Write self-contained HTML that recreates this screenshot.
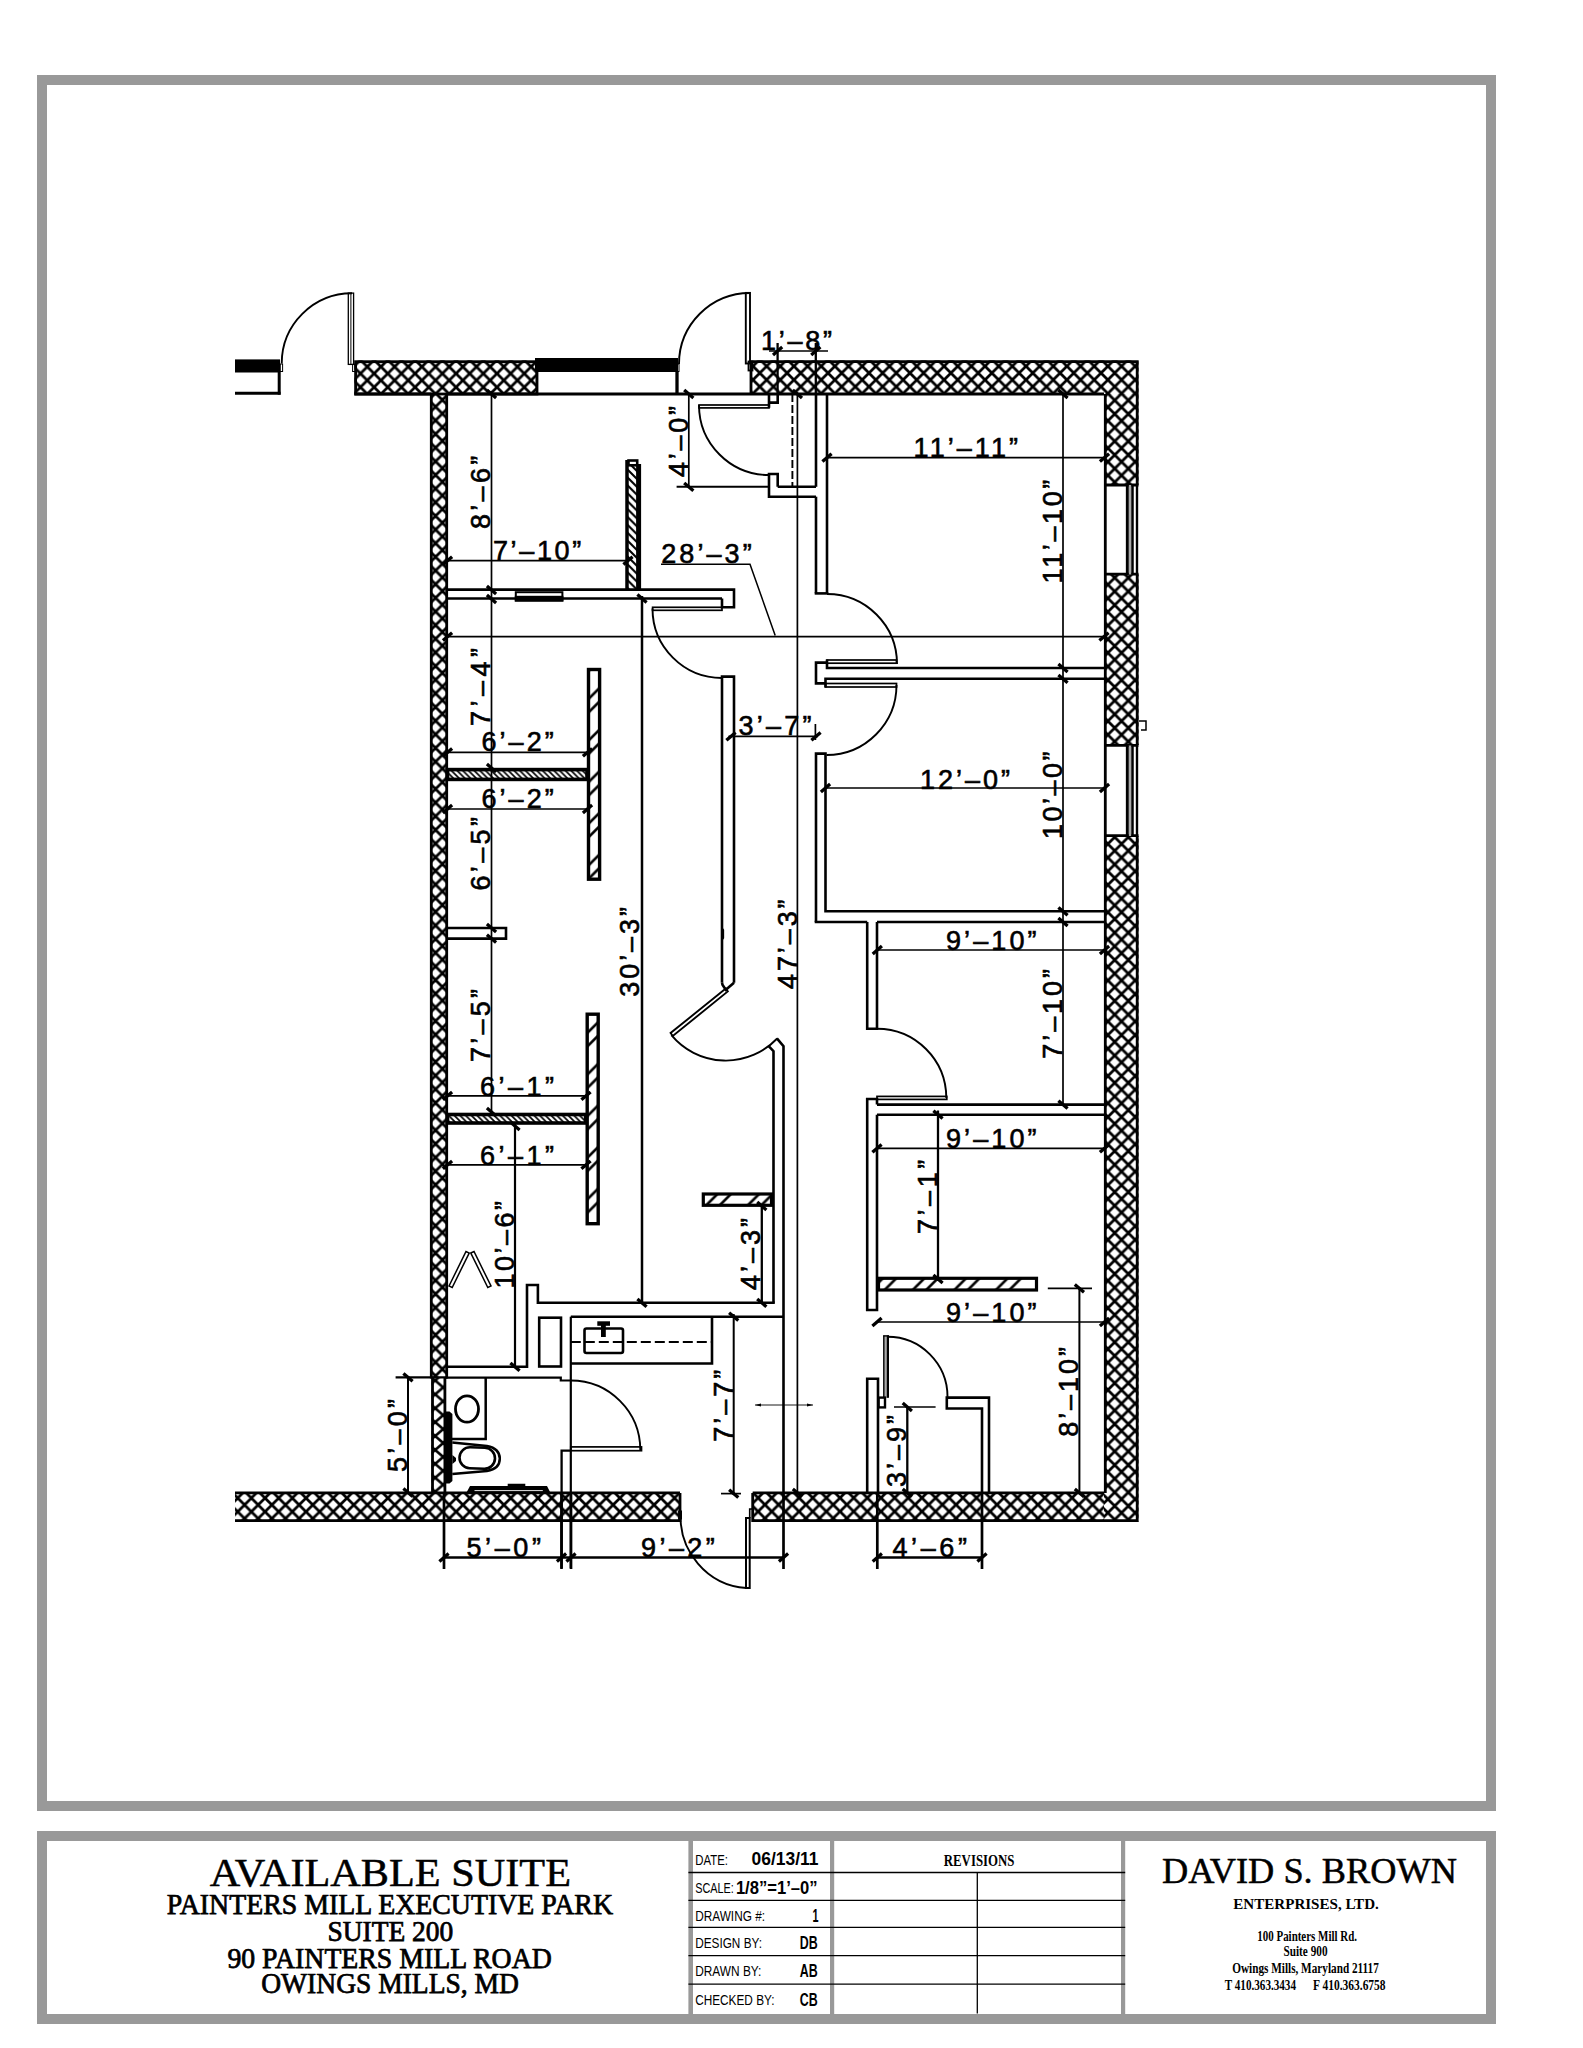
<!DOCTYPE html>
<html><head><meta charset="utf-8"><title>Available Suite - Suite 200</title>
<style>
html,body{margin:0;padding:0;background:#fff;}
body{width:1583px;height:2048px;overflow:hidden;font-family:"Liberation Sans",sans-serif;}
svg{display:block;}
svg line, svg path, svg rect, svg ellipse, svg polygon, svg polyline{stroke:#000;}
.d{font-family:"Liberation Sans",sans-serif;fill:#000;stroke:#000;stroke-width:0.6px;}
.s{font-family:"Liberation Serif",serif;fill:#000;}
.c{font-family:"Liberation Sans",sans-serif;fill:#000;}
.g{stroke:#999 !important;}
</style></head><body>
<svg width="1583" height="2048" viewBox="0 0 1583 2048">
<defs>
<pattern id="xh" patternUnits="userSpaceOnUse" x="2.25" y="11.3" width="13.65" height="13.65">
<path d="M-1,-1 L14.65,14.65 M-1,14.65 L14.65,-1" stroke="#000" stroke-width="2.75" fill="none"/>
</pattern>
<pattern id="xhTL" patternUnits="userSpaceOnUse" x="5.6" y="5.0" width="13.65" height="13.65">
<path d="M-1,-1 L14.65,14.65 M-1,14.65 L14.65,-1" stroke="#000" stroke-width="2.75" fill="none"/>
</pattern>
<pattern id="xhL2" patternUnits="userSpaceOnUse" x="11.2" y="11.3" width="16" height="13.9">
<path d="M-2,-1.74 L18,15.64 M-2,15.64 L18,-1.74" stroke="#000" stroke-width="2.6" fill="none"/>
</pattern>
<pattern id="xhL" patternUnits="userSpaceOnUse" x="5.6" y="4.1" width="13.65" height="13.65">
<path d="M-1,-1 L14.65,14.65 M-1,14.65 L14.65,-1" stroke="#000" stroke-width="2.75" fill="none"/>
</pattern>
<pattern id="xhBL" patternUnits="userSpaceOnUse" x="5.7" y="10.2" width="13.65" height="13.65">
<path d="M-1,-1 L14.65,14.65 M-1,14.65 L14.65,-1" stroke="#000" stroke-width="2.75" fill="none"/>
</pattern>
<pattern id="xhBR" patternUnits="userSpaceOnUse" x="7.4" y="10.0" width="13.65" height="13.65">
<path d="M-1,-1 L14.65,14.65 M-1,14.65 L14.65,-1" stroke="#000" stroke-width="2.75" fill="none"/>
</pattern>
<pattern id="hf" patternUnits="userSpaceOnUse" x="0" y="0" width="41.6" height="41.6">
<path d="M0.0,-2 L-2,0.0 M13.4,-2 L-2,13.4 M41.6,-2 L-2,41.6 M55.0,-2 L-2,55.0 M83.2,-2 L-2,83.2 M96.6,-2 L-2,96.6" stroke="#000" stroke-width="2.6" fill="none"/>
</pattern>
<pattern id="hb" patternUnits="userSpaceOnUse" x="0" y="0" width="5.7" height="5.7">
<path d="M-1,-1 L6.7,6.7 M-3.85,1.85 L1.85,7.55 M1.85,-3.85 L9.55,3.85" stroke="#000" stroke-width="1.7" fill="none"/>
</pattern>
<pattern id="hb2" patternUnits="userSpaceOnUse" x="0" y="0" width="7.9" height="7.9">
<path d="M-1,-1 L8.9,8.9 M-4.95,2.95 L2.95,10.85 M2.95,-4.95 L10.85,2.95" stroke="#000" stroke-width="2.1" fill="none"/>
</pattern>
</defs>
<rect x="0" y="0" width="1583" height="2048" fill="#fff" stroke="none" style="stroke:none"/>
<rect x="42" y="80" width="1449" height="1726" fill="none" stroke-width="10" class="g"/>
<rect x="42" y="1836" width="1449" height="183" fill="none" stroke-width="10" class="g"/>
<rect x="688.4" y="1840" width="4.6" height="174" fill="#999" style="stroke:none"/>
<rect x="830" y="1840" width="4.2" height="174" fill="#999" style="stroke:none"/>
<rect x="1121" y="1840" width="4.2" height="174" fill="#999" style="stroke:none"/>
<line x1="688.4" y1="1872.5" x2="1125.2" y2="1872.5" stroke-width="1.4" />
<line x1="688.4" y1="1900.4" x2="1125.2" y2="1900.4" stroke-width="1.4" />
<line x1="688.4" y1="1927.4" x2="1125.2" y2="1927.4" stroke-width="1.4" />
<line x1="688.4" y1="1955.6" x2="1125.2" y2="1955.6" stroke-width="1.4" />
<line x1="688.4" y1="1984.1" x2="1125.2" y2="1984.1" stroke-width="1.4" />
<line x1="977.3" y1="1872.5" x2="977.3" y2="2013.5" stroke-width="1.3" />
<text x="209.7" y="1886" font-size="40" font-weight="normal" textLength="361.3" lengthAdjust="spacingAndGlyphs" class="s" stroke="#000" stroke-width="0.5">AVAILABLE SUITE</text>
<text x="166.8" y="1913.7" font-size="28.5" font-weight="normal" textLength="446.2" lengthAdjust="spacingAndGlyphs" class="s" stroke="#000" stroke-width="0.75">PAINTERS MILL EXECUTIVE PARK</text>
<text x="327.4" y="1940.5" font-size="28.5" font-weight="normal" textLength="125.9" lengthAdjust="spacingAndGlyphs" class="s" stroke="#000" stroke-width="0.75">SUITE 200</text>
<text x="227.4" y="1967.8" font-size="28.5" font-weight="normal" textLength="324.4" lengthAdjust="spacingAndGlyphs" class="s" stroke="#000" stroke-width="0.75">90 PAINTERS MILL ROAD</text>
<text x="261.2" y="1993" font-size="28.5" font-weight="normal" textLength="257.8" lengthAdjust="spacingAndGlyphs" class="s" stroke="#000" stroke-width="0.75">OWINGS MILLS, MD</text>
<text x="695.2" y="1865" font-size="15.5" font-weight="normal" textLength="32.7" lengthAdjust="spacingAndGlyphs" class="c" >DATE:</text>
<text x="751.6" y="1865" font-size="18" font-weight="bold" textLength="66.9" lengthAdjust="spacingAndGlyphs" class="c" >06/13/11</text>
<text x="695.2" y="1893" font-size="15.5" font-weight="normal" textLength="38.6" lengthAdjust="spacingAndGlyphs" class="c" >SCALE:</text>
<text x="735.9" y="1894.4" font-size="18" font-weight="bold" textLength="81.7" lengthAdjust="spacingAndGlyphs" class="c" >1/8”=1’–0”</text>
<text x="695.2" y="1920.6" font-size="15.5" font-weight="normal" textLength="69.8" lengthAdjust="spacingAndGlyphs" class="c" >DRAWING #:</text>
<text x="812.5" y="1921.5" font-size="18" font-weight="bold" textLength="6.0" lengthAdjust="spacingAndGlyphs" class="c" >1</text>
<text x="695.2" y="1948.2" font-size="15.5" font-weight="normal" textLength="66.8" lengthAdjust="spacingAndGlyphs" class="c" >DESIGN BY:</text>
<text x="799.7" y="1949" font-size="18" font-weight="bold" textLength="17.9" lengthAdjust="spacingAndGlyphs" class="c" >DB</text>
<text x="695.2" y="1976" font-size="15.5" font-weight="normal" textLength="66.2" lengthAdjust="spacingAndGlyphs" class="c" >DRAWN BY:</text>
<text x="799.7" y="1977" font-size="18" font-weight="bold" textLength="17.9" lengthAdjust="spacingAndGlyphs" class="c" >AB</text>
<text x="695.2" y="2004.6" font-size="15.5" font-weight="normal" textLength="79.3" lengthAdjust="spacingAndGlyphs" class="c" >CHECKED BY:</text>
<text x="799.7" y="2005.5" font-size="18" font-weight="bold" textLength="17.9" lengthAdjust="spacingAndGlyphs" class="c" >CB</text>
<text x="943.8" y="1866.2" font-size="17.5" font-weight="bold" textLength="70.6" lengthAdjust="spacingAndGlyphs" class="s" >REVISIONS</text>
<text x="1162" y="1883.3" font-size="36.8" font-weight="normal" textLength="295.0" lengthAdjust="spacingAndGlyphs" class="s" stroke="#000" stroke-width="0.5">DAVID S. BROWN</text>
<text x="1233.3" y="1909.3" font-size="15.5" font-weight="bold" textLength="145.5" lengthAdjust="spacingAndGlyphs" class="s" >ENTERPRISES, LTD.</text>
<text x="1257.3" y="1941" font-size="14.5" font-weight="bold" textLength="99.7" lengthAdjust="spacingAndGlyphs" class="s" >100 Painters Mill Rd.</text>
<text x="1283.5" y="1955.8" font-size="14.5" font-weight="bold" textLength="44.0" lengthAdjust="spacingAndGlyphs" class="s" >Suite 900</text>
<text x="1232.2" y="1972.8" font-size="14.5" font-weight="bold" textLength="146.6" lengthAdjust="spacingAndGlyphs" class="s" >Owings Mills, Maryland 21117</text>
<text x="1224.8" y="1990" font-size="14.5" font-weight="bold" textLength="71.2" lengthAdjust="spacingAndGlyphs" class="s" >T 410.363.3434</text>
<text x="1313" y="1990" font-size="14.5" font-weight="bold" textLength="72.6" lengthAdjust="spacingAndGlyphs" class="s" >F 410.363.6758</text>
<rect x="354.4" y="360.4" width="182.60" height="33.60" fill="url(#xhTL)" style="stroke:none"/>
<rect x="751" y="360.4" width="387.50" height="34.10" fill="url(#xh)" style="stroke:none"/>
<rect x="1104" y="394" width="34.50" height="90.80" fill="url(#xh)" style="stroke:none"/>
<rect x="1104" y="574.5" width="34.50" height="170.50" fill="url(#xh)" style="stroke:none"/>
<rect x="1104" y="836" width="34.50" height="686.00" fill="url(#xh)" style="stroke:none"/>
<rect x="235" y="1492.5" width="445.00" height="29.50" fill="url(#xhBL)" style="stroke:none"/>
<rect x="752.7" y="1492.5" width="351.30" height="29.50" fill="url(#xhBR)" style="stroke:none"/>
<rect x="430.5" y="394" width="17.00" height="983.40" fill="url(#xhL)" style="stroke:none"/>
<rect x="431.5" y="1377.4" width="14.50" height="115.10" fill="url(#xhL2)" style="stroke:none"/>
<rect x="355.6" y="361.7" width="181.40" height="32.30" stroke-width="2.8" fill="none" />
<path d="M751,394 L751,361.7 L1137.2,361.7 L1137.2,484.8 M1137.2,574.5 L1137.2,745 M1137.2,836 L1137.2,1520.7 L752.7,1520.7 L752.7,1492.9" stroke-width="2.8" fill="none" />
<line x1="354.4" y1="394" x2="431.5" y2="394" stroke-width="2.8" />
<line x1="446.8" y1="394" x2="1104" y2="394" stroke-width="2.8" />
<line x1="1105.3" y1="394" x2="1105.3" y2="1492.9" stroke-width="2.8" />
<line x1="752.7" y1="1492.9" x2="1104" y2="1492.9" stroke-width="2.8" />
<line x1="1104" y1="485" x2="1138.5" y2="485" stroke-width="2.8" />
<line x1="1104" y1="574.2" x2="1138.5" y2="574.2" stroke-width="2.8" />
<line x1="1104" y1="745.3" x2="1138.5" y2="745.3" stroke-width="2.8" />
<line x1="1104" y1="835.7" x2="1138.5" y2="835.7" stroke-width="2.8" />
<rect x="1128.6" y="485" width="2.8" height="89.5" fill="#aaa" style="stroke:none"/>
<line x1="1127.3" y1="485" x2="1127.3" y2="574.5" stroke-width="2.9" />
<line x1="1132.5" y1="485" x2="1132.5" y2="574.5" stroke-width="2.5" />
<line x1="1137" y1="485" x2="1137" y2="574.5" stroke-width="2.4" />
<rect x="1128.6" y="745.5" width="2.8" height="90.5" fill="#aaa" style="stroke:none"/>
<line x1="1127.3" y1="745.5" x2="1127.3" y2="836" stroke-width="2.9" />
<line x1="1132.5" y1="745.5" x2="1132.5" y2="836" stroke-width="2.5" />
<line x1="1137" y1="745.5" x2="1137" y2="836" stroke-width="2.4" />
<path d="M1139,721 L1146,721 L1146,730 L1141,730" stroke-width="1.5" fill="none" />
<path d="M680,1492.9 L235,1492.9 M235,1520.7 L680,1520.7 L680,1492.9" stroke-width="2.8" fill="none" />
<line x1="431.3" y1="393" x2="431.3" y2="1378.5" stroke-width="2.8" />
<line x1="432.5" y1="1377.4" x2="432.5" y2="1492.9" stroke-width="2.8" />
<line x1="446.7" y1="393" x2="446.7" y2="1378.5" stroke-width="2.8" />
<line x1="444.9" y1="1377.4" x2="444.9" y2="1492.9" stroke-width="2.8" />
<rect x="235" y="359.4" width="45.00" height="13.10" stroke-width="0" fill="#000" />
<line x1="279.2" y1="372" x2="279.2" y2="394.7" stroke-width="3" />
<line x1="235" y1="393.2" x2="280.6" y2="393.2" stroke-width="3" />
<rect x="280.3" y="364" width="2.30" height="7.50" stroke-width="1.0" fill="none" />
<path d="M281.7,363.6 A70.3,70.3 0 0 1 352.0,293.3" stroke-width="1.9" fill="none" />
<rect x="348.3" y="293.1" width="5.30" height="71.30" stroke-width="1.3" fill="none" />
<line x1="350.9" y1="293.1" x2="350.9" y2="364.4" stroke-width="1.0" />
<rect x="352.6" y="364.4" width="2.80" height="7.10" stroke-width="1.0" fill="none" />
<rect x="535" y="358" width="143.00" height="14.00" stroke-width="0" fill="#000" />
<line x1="536.6" y1="372" x2="536.6" y2="394" stroke-width="1.6" />
<line x1="677" y1="372" x2="677" y2="394" stroke-width="3.3" />
<rect x="676.5" y="364" width="2.50" height="7.50" stroke-width="1.0" fill="none" />
<path d="M679.0,364.0 A71,71 0 0 1 750.0,293.0" stroke-width="1.9" fill="none" />
<rect x="745.8" y="292.9" width="4.20" height="70.60" stroke-width="1.9" fill="none" />
<rect x="748.5" y="361.5" width="4.00" height="9.00" stroke-width="1.8" fill="none" />
<path d="M769,394 L769,407.7 M769,402.6 L777.7,402.6 L777.7,394" stroke-width="2.6" fill="none" />
<rect x="699" y="405" width="70.00" height="2.90" stroke-width="1.7" fill="none" />
<path d="M699.0,405.0 A70,70 0 0 0 769.0,475.0" stroke-width="1.9" fill="none" />
<path d="M777.7,486.8 L777.7,474 L769,474 L769,496.7 L816,496.7" stroke-width="2.6" fill="none" />
<line x1="777.7" y1="486.8" x2="816" y2="486.8" stroke-width="2.6" />
<line x1="676.6" y1="486.8" x2="769" y2="486.8" stroke-width="2.0" />
<line x1="816" y1="394" x2="816" y2="486.8" stroke-width="2.6" />
<line x1="816" y1="496.7" x2="816" y2="593.4" stroke-width="2.6" />
<line x1="827" y1="394" x2="827" y2="593.4" stroke-width="2.6" />
<line x1="814.7" y1="593.4" x2="828.3" y2="593.4" stroke-width="2.6" />
<line x1="792.4" y1="394" x2="792.4" y2="486.8" stroke-width="1.9" stroke-dasharray="8 3"/>
<path d="M827.0,594.0 A70,70 0 0 1 897.0,664.0" stroke-width="1.9" fill="none" />
<rect x="827" y="660" width="69.50" height="3.20" stroke-width="1.7" fill="none" />
<path d="M827,659.5 L827,668 L1104,668" stroke-width="2.6" fill="none" />
<path d="M827,662.6 L816,662.6 L816,683.4 L825.5,683.4" stroke-width="2.6" fill="none" />
<path d="M825.5,687.5 L825.5,678.8 L1104,678.8" stroke-width="2.6" fill="none" />
<rect x="825.5" y="683.5" width="71.00" height="3.50" stroke-width="1.7" fill="none" />
<path d="M896.5,685.0 A70,70 0 0 1 826.5,755.0" stroke-width="1.9" fill="none" />
<path d="M816,922 L816,753.6 L825.5,753.6 L825.5,911.3 L1104,911.3" stroke-width="2.6" fill="none" />
<path d="M814.7,922 L867.2,922 M877,922 L1104,922" stroke-width="2.6" fill="none" />
<path d="M867.2,922 L867.2,1028.8 L877,1028.8 L877,922" stroke-width="2.6" fill="none" />
<path d="M877.0,1028.7 A69.3,69.3 0 0 1 946.3,1098.0" stroke-width="1.9" fill="none" />
<rect x="877" y="1096.4" width="69.80" height="3.00" stroke-width="1.7" fill="none" />
<path d="M877,1104.6 L1104,1104.6 M877,1114.7 L1104,1114.7" stroke-width="2.6" fill="none" />
<path d="M877,1104.6 L877,1099 L867.2,1099 L867.2,1310 L877,1310 L877,1114.7" stroke-width="2.6" fill="none" />
<rect x="878.5" y="1278.3" width="158.00" height="11.70" fill="url(#hf)" stroke-width="3.2"/>
<path d="M867.2,1492.9 L867.2,1378.7 L878,1378.7 L878,1492.9" stroke-width="2.6" fill="none" />
<rect x="884" y="1335.7" width="4.00" height="62.10" stroke-width="0" fill="#aaa" style="stroke:none"/>
<line x1="883.8" y1="1335.5" x2="883.8" y2="1397.8" stroke-width="1.4" />
<line x1="887.9" y1="1335.5" x2="887.9" y2="1397.8" stroke-width="2.2" />
<line x1="883.2" y1="1335.9" x2="889" y2="1335.9" stroke-width="1.4" />
<path d="M887.5,1336.8 A60,60 0 0 1 947.5,1396.8" stroke-width="1.9" fill="none" />
<rect x="878.6" y="1397.6" width="6.40" height="9.80" stroke-width="2.4" fill="none" />
<path d="M946.8,1396.3 L946.8,1408.5 L982,1408.5 L982,1492.9" stroke-width="2.6" fill="none" />
<path d="M946.8,1397.6 L989,1397.6 L989,1492.9" stroke-width="2.6" fill="none" />
<path d="M447.5,589.6 L734,589.6 L734,607.3 L722,607.3 L722,598.5" stroke-width="2.6" fill="none" />
<line x1="447.5" y1="598.5" x2="722" y2="598.5" stroke-width="2.3" />
<rect x="515.8" y="592.2" width="46.60" height="8.40" stroke-width="2.0" fill="none" />
<rect x="514.8" y="595.8" width="48.60" height="5.70" stroke-width="0" fill="#000" />
<rect x="652.6" y="607.3" width="69.40" height="3.00" stroke-width="1.7" fill="none" />
<path d="M652.5,608.5 A69.5,69.5 0 0 0 722.0,678.0" stroke-width="1.9" fill="none" />
<rect x="627" y="464" width="12.00" height="125.00" fill="url(#hb2)" style="stroke:none"/>
<line x1="627" y1="460" x2="627" y2="589" stroke-width="3.5" />
<line x1="638.6" y1="464" x2="638.6" y2="589" stroke-width="5" />
<rect x="628.5" y="460.5" width="8.70" height="4.80" stroke-width="2.6" fill="#fff" />
<path d="M722,982.8 L722,676.6 L734,676.6 L734,982.8" stroke-width="2.6" fill="none" />
<path d="M722,928 L723.5,930 L723.5,938 L722,940" stroke-width="1.3" fill="none" />
<path d="M722,982.8 L722.6,985 L725.8,989.8 L734,982.8" stroke-width="2.6" fill="none" />
<path d="M725.8,988.6 L670.6,1033 L672.8,1036 L727.8,991.4 Z" stroke-width="1.9" fill="none" />
<path d="M671.4,1035.1 A70.8,70.8 0 0 0 777.2,1038.5" stroke-width="1.9" fill="none" />
<path d="M768.2,1045.7 L773.5,1051.2 L773.5,1302.8" stroke-width="2.6" fill="none" />
<path d="M776.9,1038.3 L783.5,1046.2 L783.5,1492.9" stroke-width="2.6" fill="none" />
<rect x="703.3" y="1194" width="68.20" height="11.30" fill="url(#hf)" stroke-width="3.2"/>
<rect x="588.5" y="669.5" width="11.10" height="209.70" fill="url(#hf)" stroke-width="3.4"/>
<rect x="447.5" y="769.6" width="139.50" height="9.80" fill="url(#hb)" stroke-width="3.6"/>
<rect x="587.2" y="1014.2" width="11.00" height="209.50" fill="url(#hf)" stroke-width="3.4"/>
<rect x="447.5" y="1114.5" width="138.20" height="8.50" fill="url(#hb)" stroke-width="3.6"/>
<path d="M447.5,928 L506,928 L506,938.6 L447.5,938.6" stroke-width="2.6" fill="none" />
<path d="M449,1286 L466,1251.5 L469.2,1253 L452.2,1287.5 Z" stroke-width="1.5" fill="none" />
<path d="M470.8,1253 L474,1251.5 L491,1286 L487.8,1287.5 Z" stroke-width="1.5" fill="none" />
<line x1="446" y1="1366.8" x2="527" y2="1366.8" stroke-width="2.6" />
<path d="M527,1368 L527,1285 L537.9,1285 L537.9,1302.8 L774.8,1302.8" stroke-width="2.6" fill="none" />
<rect x="539.2" y="1317.7" width="21.80" height="48.80" stroke-width="2.6" fill="none" />
<line x1="570.8" y1="1316.7" x2="784" y2="1316.7" stroke-width="2.6" />
<line x1="570.8" y1="1316.7" x2="570.8" y2="1568" stroke-width="2.2" />
<path d="M712,1316.7 L712,1363.5 L570.8,1363.5" stroke-width="2.6" fill="none" />
<line x1="570.8" y1="1342" x2="712" y2="1342" stroke-width="2.0" stroke-dasharray="10 4"/>
<rect x="584.5" y="1328.5" width="38.5" height="24.5" rx="2" ry="2" fill="none" stroke-width="2.6"/>
<rect x="597.3" y="1321.3" width="12.70" height="4.50" stroke-width="0" fill="#000" />
<rect x="601" y="1325" width="4.80" height="12.00" stroke-width="0" fill="#000" />
<path d="M446,1377.6 L560.8,1377.6 L560.8,1380.5 L570.8,1380.5" stroke-width="2.2" fill="none" />
<path d="M570.8,1380.5 A69.5,69.5 0 0 1 640.3,1450.0" stroke-width="1.9" fill="none" />
<rect x="570.8" y="1446.9" width="70.70" height="3.80" stroke-width="1.7" fill="none" />
<path d="M570.8,1450.7 L561.6,1450.7 L561.6,1568" stroke-width="2.3" fill="none" />
<path d="M447,1439 L485.7,1439 L485.7,1377.8" stroke-width="2.5" fill="none" />
<ellipse cx="467" cy="1409" rx="11.5" ry="13.2" fill="none" stroke-width="2.8"/>
<polygon points="446,1411.6 449.5,1411.6 452.4,1414 452.4,1481 449.5,1483.4 446,1483.4" fill="#000" style="stroke:none"/>
<polygon points="452.4,1455 456,1458 456,1461 452.4,1464" fill="#000" style="stroke:none"/>
<path d="M452.3,1442.6 L486.9,1446 Q499.8,1448.5 499.8,1458.5 Q499.8,1469 486.9,1471 L452.3,1474" stroke-width="2.5" fill="none" />
<rect x="459.5" y="1447.5" width="35.5" height="21" rx="10.5" ry="10.5" fill="none" stroke-width="2.6" transform="rotate(2 477 1458)"/>
<polygon points="466.5,1492.5 470,1486 507.7,1486 507.7,1483.7 525.3,1483.7 525.3,1486 547,1486 550.3,1492.5" fill="#000" style="stroke:none"/>
<line x1="474.5" y1="1490.6" x2="542.8" y2="1490.6" stroke-width="0.9" style="stroke:#fff"/>
<rect x="746" y="1518" width="3.70" height="70.00" stroke-width="2.0" fill="none" />
<path d="M680.7,1511 A70,72 0 0 0 746.4,1588" stroke-width="1.9" fill="none" />
<rect x="678.6" y="1511" width="2.90" height="8.00" stroke-width="1.0" fill="none" />
<path d="M752,1509 L749.7,1509 L749.7,1518" stroke-width="1.6" fill="none" />
<line x1="491.5" y1="391" x2="491.5" y2="1112" stroke-width="1.7" />
<line x1="486.9" y1="390.1" x2="496.1" y2="397.9" stroke-width="3.3"/>
<line x1="486.9" y1="586.1" x2="496.1" y2="593.9" stroke-width="3.3"/>
<line x1="486.9" y1="595.1" x2="496.1" y2="602.9" stroke-width="3.3"/>
<line x1="486.9" y1="764.1" x2="496.1" y2="771.9" stroke-width="3.3"/>
<line x1="486.9" y1="924.1" x2="496.1" y2="931.9" stroke-width="3.3"/>
<line x1="486.9" y1="934.7" x2="496.1" y2="942.5" stroke-width="3.3"/>
<line x1="486.9" y1="1108.1" x2="496.1" y2="1115.9" stroke-width="3.3"/>
<line x1="447.5" y1="560.6" x2="628" y2="560.6" stroke-width="1.7" />
<line x1="442.9" y1="564.5" x2="452.1" y2="556.7" stroke-width="3.3"/>
<line x1="623.4" y1="564.5" x2="632.6" y2="556.7" stroke-width="3.3"/>
<line x1="447.5" y1="636.6" x2="1104" y2="636.6" stroke-width="1.7" />
<line x1="442.9" y1="640.5" x2="452.1" y2="632.7" stroke-width="3.3"/>
<line x1="1099.4" y1="640.5" x2="1108.6" y2="632.7" stroke-width="3.3"/>
<path d="M661,564.2 L750,564.2 L775.2,635.5" stroke-width="1.5" fill="none" />
<line x1="642" y1="596" x2="642" y2="1302.8" stroke-width="2.5" />
<line x1="637.4" y1="594.6" x2="646.6" y2="602.4" stroke-width="3.3"/>
<line x1="637.4" y1="1298.9" x2="646.6" y2="1306.7" stroke-width="3.3"/>
<line x1="797.4" y1="394" x2="797.4" y2="1492.9" stroke-width="1.7" />
<line x1="792.8" y1="390.1" x2="802.0" y2="397.9" stroke-width="3.3"/>
<line x1="792.8" y1="1489.0" x2="802.0" y2="1496.8" stroke-width="3.3"/>
<line x1="688.8" y1="394" x2="688.8" y2="486.8" stroke-width="1.7" />
<line x1="684.2" y1="390.1" x2="693.4" y2="397.9" stroke-width="3.3"/>
<line x1="684.2" y1="482.9" x2="693.4" y2="490.7" stroke-width="3.3"/>
<line x1="769" y1="351" x2="828" y2="351" stroke-width="1.7" />
<line x1="773.0" y1="354.9" x2="782.2" y2="347.1" stroke-width="3.3"/>
<line x1="811.2" y1="354.9" x2="820.4" y2="347.1" stroke-width="3.3"/>
<line x1="777.6" y1="343" x2="777.6" y2="394" stroke-width="2.3" />
<line x1="815.8" y1="343" x2="815.8" y2="394" stroke-width="2.3" />
<line x1="827" y1="457.7" x2="1104.5" y2="457.7" stroke-width="1.7" />
<line x1="822.4" y1="461.6" x2="831.6" y2="453.8" stroke-width="3.3"/>
<line x1="1099.9" y1="461.6" x2="1109.1" y2="453.8" stroke-width="3.3"/>
<line x1="1063" y1="394" x2="1063" y2="1104.6" stroke-width="1.7" />
<line x1="1058.4" y1="390.1" x2="1067.6" y2="397.9" stroke-width="3.3"/>
<line x1="1058.4" y1="664.1" x2="1067.6" y2="671.9" stroke-width="3.3"/>
<line x1="1058.4" y1="674.9" x2="1067.6" y2="682.7" stroke-width="3.3"/>
<line x1="1058.4" y1="907.4" x2="1067.6" y2="915.2" stroke-width="3.3"/>
<line x1="1058.4" y1="918.1" x2="1067.6" y2="925.9" stroke-width="3.3"/>
<line x1="1058.4" y1="1100.7" x2="1067.6" y2="1108.5" stroke-width="3.3"/>
<line x1="728.5" y1="736.4" x2="818" y2="736.4" stroke-width="1.7" />
<line x1="726.4" y1="740.3" x2="735.6" y2="732.5" stroke-width="3.3"/>
<line x1="811.4" y1="740.3" x2="820.6" y2="732.5" stroke-width="3.3"/>
<line x1="815.4" y1="724" x2="815.4" y2="740" stroke-width="1.7" />
<line x1="447.5" y1="752.4" x2="587.5" y2="752.4" stroke-width="1.7" />
<line x1="442.9" y1="756.3" x2="452.1" y2="748.5" stroke-width="3.3"/>
<line x1="582.9" y1="756.3" x2="592.1" y2="748.5" stroke-width="3.3"/>
<line x1="447.5" y1="809" x2="587.5" y2="809" stroke-width="1.7" />
<line x1="442.9" y1="812.9" x2="452.1" y2="805.1" stroke-width="3.3"/>
<line x1="582.9" y1="812.9" x2="592.1" y2="805.1" stroke-width="3.3"/>
<line x1="825.5" y1="788" x2="1104.5" y2="788" stroke-width="1.7" />
<line x1="820.9" y1="791.9" x2="830.1" y2="784.1" stroke-width="3.3"/>
<line x1="1099.9" y1="791.9" x2="1109.1" y2="784.1" stroke-width="3.3"/>
<line x1="877.3" y1="950" x2="1104.5" y2="950" stroke-width="1.7" />
<line x1="872.7" y1="953.9" x2="881.9" y2="946.1" stroke-width="3.3"/>
<line x1="1099.9" y1="953.9" x2="1109.1" y2="946.1" stroke-width="3.3"/>
<line x1="447.5" y1="1095.8" x2="586" y2="1095.8" stroke-width="1.7" />
<line x1="442.9" y1="1099.7" x2="452.1" y2="1091.9" stroke-width="3.3"/>
<line x1="581.4" y1="1099.7" x2="590.6" y2="1091.9" stroke-width="3.3"/>
<line x1="447.5" y1="1164.8" x2="586" y2="1164.8" stroke-width="1.7" />
<line x1="442.9" y1="1168.7" x2="452.1" y2="1160.9" stroke-width="3.3"/>
<line x1="581.4" y1="1168.7" x2="590.6" y2="1160.9" stroke-width="3.3"/>
<line x1="515" y1="1124" x2="515" y2="1366.8" stroke-width="2.2" />
<line x1="510.4" y1="1122.1" x2="519.6" y2="1129.9" stroke-width="3.3"/>
<line x1="510.4" y1="1362.9" x2="519.6" y2="1370.7" stroke-width="3.3"/>
<line x1="877" y1="1148.4" x2="1104.5" y2="1148.4" stroke-width="1.7" />
<line x1="872.4" y1="1152.3" x2="881.6" y2="1144.5" stroke-width="3.3"/>
<line x1="1099.9" y1="1152.3" x2="1109.1" y2="1144.5" stroke-width="3.3"/>
<line x1="938" y1="1110.5" x2="938" y2="1281" stroke-width="2.3" />
<line x1="933.4" y1="1110.8" x2="942.6" y2="1118.6" stroke-width="3.3"/>
<line x1="933.4" y1="1275.1" x2="942.6" y2="1282.9" stroke-width="3.3"/>
<line x1="761.8" y1="1205" x2="761.8" y2="1303.5" stroke-width="2.3" />
<line x1="757.2" y1="1202.1" x2="766.4" y2="1209.9" stroke-width="3.3"/>
<line x1="757.2" y1="1298.9" x2="766.4" y2="1306.7" stroke-width="3.3"/>
<line x1="1079.4" y1="1287.7" x2="1079.4" y2="1493.6" stroke-width="2.0" />
<line x1="1074.8" y1="1284.5" x2="1084.0" y2="1292.3" stroke-width="3.3"/>
<line x1="1074.8" y1="1489.0" x2="1084.0" y2="1496.8" stroke-width="3.3"/>
<line x1="1047.8" y1="1288.4" x2="1092" y2="1288.4" stroke-width="1.7" />
<line x1="877" y1="1322" x2="1104.5" y2="1322" stroke-width="1.7" />
<line x1="872.4" y1="1325.9" x2="881.6" y2="1318.1" stroke-width="3.3"/>
<line x1="1099.9" y1="1325.9" x2="1109.1" y2="1318.1" stroke-width="3.3"/>
<line x1="408" y1="1377.4" x2="408" y2="1492.5" stroke-width="2.0" />
<line x1="403.4" y1="1373.5" x2="412.6" y2="1381.3" stroke-width="3.3"/>
<line x1="403.4" y1="1488.6" x2="412.6" y2="1496.4" stroke-width="3.3"/>
<line x1="395.6" y1="1377.4" x2="447" y2="1377.4" stroke-width="2.1" />
<line x1="733.7" y1="1314" x2="733.7" y2="1494.9" stroke-width="2.0" />
<line x1="729.1" y1="1312.8" x2="738.3" y2="1320.6" stroke-width="3.3"/>
<line x1="729.1" y1="1489.7" x2="738.3" y2="1497.5" stroke-width="3.3"/>
<line x1="721" y1="1493.6" x2="741" y2="1493.6" stroke-width="1.7" />
<line x1="907.3" y1="1407" x2="907.3" y2="1492.9" stroke-width="2.3" />
<line x1="902.7" y1="1403.1" x2="911.9" y2="1410.9" stroke-width="3.3"/>
<line x1="902.7" y1="1489.0" x2="911.9" y2="1496.8" stroke-width="3.3"/>
<line x1="894" y1="1407" x2="935.6" y2="1407" stroke-width="1.7" />
<line x1="755" y1="1405" x2="813" y2="1405" stroke-width="0.9" />
<polygon points="755,1405 761,1403.6 761,1406.4" fill="#000" style="stroke:none"/>
<polygon points="813,1405 807,1403.6 807,1406.4" fill="#000" style="stroke:none"/>
<line x1="444" y1="1557.5" x2="783.5" y2="1557.5" stroke-width="2.5" />
<line x1="439.4" y1="1561.4" x2="448.6" y2="1553.6" stroke-width="3.3"/>
<line x1="556.9" y1="1561.4" x2="566.1" y2="1553.6" stroke-width="3.3"/>
<line x1="566.4" y1="1561.4" x2="575.6" y2="1553.6" stroke-width="3.3"/>
<line x1="778.9" y1="1561.4" x2="788.1" y2="1553.6" stroke-width="3.3"/>
<line x1="877.3" y1="1557.5" x2="982" y2="1557.5" stroke-width="2.5" />
<line x1="872.7" y1="1561.4" x2="881.9" y2="1553.6" stroke-width="3.3"/>
<line x1="977.4" y1="1561.4" x2="986.6" y2="1553.6" stroke-width="3.3"/>
<line x1="444" y1="1492.9" x2="444" y2="1569" stroke-width="2.7" />
<line x1="561.5" y1="1492.9" x2="561.5" y2="1569" stroke-width="2.7" />
<line x1="571" y1="1492.9" x2="571" y2="1569" stroke-width="2.7" />
<line x1="783.5" y1="1492.9" x2="783.5" y2="1569" stroke-width="2.7" />
<line x1="877.3" y1="1492.9" x2="877.3" y2="1569" stroke-width="2.7" />
<line x1="982" y1="1492.9" x2="982" y2="1569" stroke-width="2.7" />
<text x="761" y="349.6" font-size="27" textLength="71.0" lengthAdjust="spacing" class="d">1’–8”</text>
<text x="492.9" y="560" font-size="27" textLength="88.4" lengthAdjust="spacing" class="d">7’–10”</text>
<text x="661.2" y="562.6" font-size="27" textLength="90.5" lengthAdjust="spacing" class="d">28’–3”</text>
<text x="913.6" y="457.2" font-size="27" textLength="104.4" lengthAdjust="spacing" class="d">11’–11”</text>
<text x="738.6" y="735.2" font-size="27" textLength="73.0" lengthAdjust="spacing" class="d">3’–7”</text>
<text x="481.5" y="751.3" font-size="27" textLength="72.2" lengthAdjust="spacing" class="d">6’–2”</text>
<text x="481.5" y="807.8" font-size="27" textLength="72.2" lengthAdjust="spacing" class="d">6’–2”</text>
<text x="919.9" y="788.5" font-size="27" textLength="90.1" lengthAdjust="spacing" class="d">12’–0”</text>
<text x="946" y="950.4" font-size="27" textLength="90.5" lengthAdjust="spacing" class="d">9’–10”</text>
<text x="480" y="1095.6" font-size="27" textLength="74.0" lengthAdjust="spacing" class="d">6’–1”</text>
<text x="480" y="1164.6" font-size="27" textLength="74.0" lengthAdjust="spacing" class="d">6’–1”</text>
<text x="946" y="1148.4" font-size="27" textLength="90.5" lengthAdjust="spacing" class="d">9’–10”</text>
<text x="946" y="1322" font-size="27" textLength="90.5" lengthAdjust="spacing" class="d">9’–10”</text>
<text x="466.4" y="1557.2" font-size="27" textLength="74.5" lengthAdjust="spacing" class="d">5’–0”</text>
<text x="641" y="1557.2" font-size="27" textLength="73.8" lengthAdjust="spacing" class="d">9’–2”</text>
<text x="892.4" y="1557.2" font-size="27" textLength="74.6" lengthAdjust="spacing" class="d">4’–6”</text>
<text transform="translate(490.4,529) rotate(-90)" x="0" y="0" font-size="27" textLength="73.3" lengthAdjust="spacing" class="d">8’–6”</text>
<text transform="translate(687.7,477) rotate(-90)" x="0" y="0" font-size="27" textLength="71.0" lengthAdjust="spacing" class="d">4’–0”</text>
<text transform="translate(1061.9,583.4) rotate(-90)" x="0" y="0" font-size="27" textLength="103.7" lengthAdjust="spacing" class="d">11’–10”</text>
<text transform="translate(490.4,726) rotate(-90)" x="0" y="0" font-size="27" textLength="78.0" lengthAdjust="spacing" class="d">7’–4”</text>
<text transform="translate(490.4,890.6) rotate(-90)" x="0" y="0" font-size="27" textLength="73.6" lengthAdjust="spacing" class="d">6’–5”</text>
<text transform="translate(638.8,996.7) rotate(-90)" x="0" y="0" font-size="27" textLength="89.7" lengthAdjust="spacing" class="d">30’–3”</text>
<text transform="translate(796.5,989) rotate(-90)" x="0" y="0" font-size="27" textLength="89.6" lengthAdjust="spacing" class="d">47’–3”</text>
<text transform="translate(1061.9,839) rotate(-90)" x="0" y="0" font-size="27" textLength="87.4" lengthAdjust="spacing" class="d">10’–0”</text>
<text transform="translate(1061.9,1058.7) rotate(-90)" x="0" y="0" font-size="27" textLength="89.7" lengthAdjust="spacing" class="d">7’–10”</text>
<text transform="translate(490.4,1062) rotate(-90)" x="0" y="0" font-size="27" textLength="73.0" lengthAdjust="spacing" class="d">7’–5”</text>
<text transform="translate(513.6,1288.6) rotate(-90)" x="0" y="0" font-size="27" textLength="87.6" lengthAdjust="spacing" class="d">10’–6”</text>
<text transform="translate(936.6,1234) rotate(-90)" x="0" y="0" font-size="27" textLength="74.3" lengthAdjust="spacing" class="d">7’–1”</text>
<text transform="translate(760.4,1289.9) rotate(-90)" x="0" y="0" font-size="27" textLength="72.0" lengthAdjust="spacing" class="d">4’–3”</text>
<text transform="translate(407,1472) rotate(-90)" x="0" y="0" font-size="27" textLength="73.1" lengthAdjust="spacing" class="d">5’–0”</text>
<text transform="translate(732.5,1441.8) rotate(-90)" x="0" y="0" font-size="27" textLength="72.0" lengthAdjust="spacing" class="d">7’–7”</text>
<text transform="translate(1078,1436.8) rotate(-90)" x="0" y="0" font-size="27" textLength="89.8" lengthAdjust="spacing" class="d">8’–10”</text>
<text transform="translate(905.9,1487) rotate(-90)" x="0" y="0" font-size="27" textLength="72.0" lengthAdjust="spacing" class="d">3’–9”</text>
</svg>
</body></html>
